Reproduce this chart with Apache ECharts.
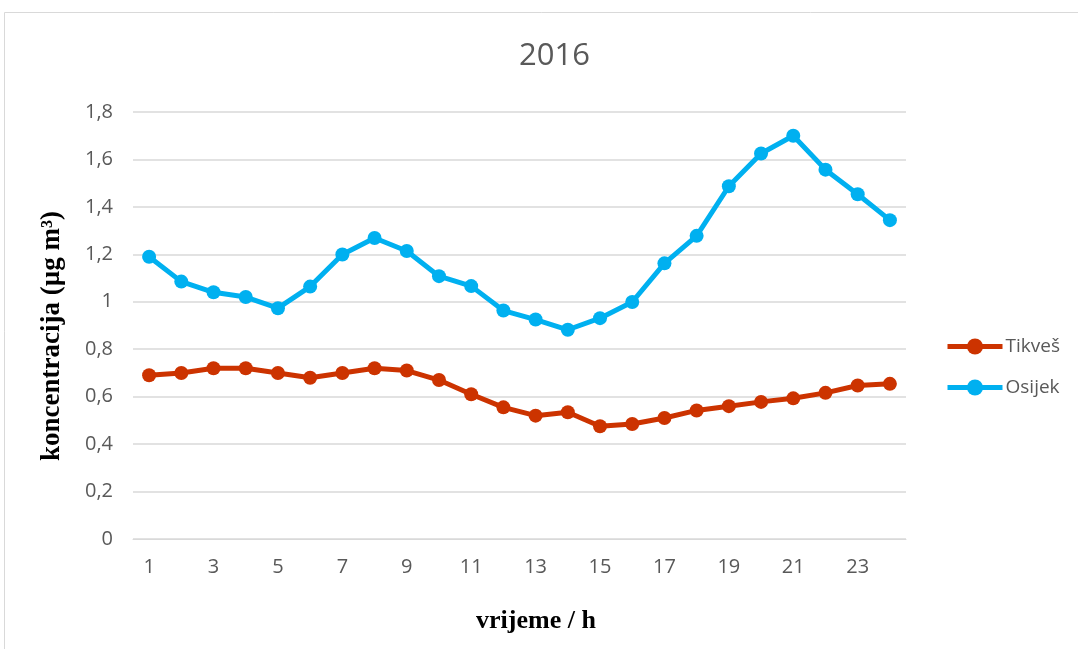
<!DOCTYPE html>
<html>
<head>
<meta charset="utf-8">
<script src="https://cdn.jsdelivr.net/npm/echarts@6/dist/echarts.min.js"></script>
<style>
  html, body { margin: 0; padding: 0; background: #fff; }
  #chart { width: 1078px; height: 649px; }
</style>
</head>
<body>
<div id="chart"></div>
<script>
// sati 1..24
const hours = ['1','2','3','4','5','6','7','8','9','10','11','12','13','14','15','16','17','18','19','20','21','22','23','24'];
const tikves = [0.69, 0.70, 0.72, 0.72, 0.70, 0.68, 0.70, 0.72, 0.71, 0.67, 0.61, 0.555, 0.52, 0.534, 0.475, 0.485, 0.51, 0.542, 0.56, 0.578, 0.593, 0.616, 0.647, 0.654];
const osijek = [1.19, 1.085, 1.04, 1.02, 0.973, 1.064, 1.199, 1.269, 1.214, 1.108, 1.066, 0.963, 0.925, 0.882, 0.931, 0.999, 1.162, 1.278, 1.487, 1.625, 1.70, 1.557, 1.453, 1.344];

const chart = echarts.init(document.getElementById('chart'));

const option = {
  animation: false,
  backgroundColor: '#fff',
  graphic: [{
    type: 'rect',
    shape: { x: 4.5, y: 12.5, width: 1100, height: 700 },
    style: { fill: 'none', stroke: '#d9d9d9', lineWidth: 1 }
  }],
  title: {
    text: '2016',
    left: 514,
    top: 36,
    textStyle: { fontFamily: 'Open Sans', fontSize: 31, fontWeight: 'normal', color: '#595959' }
  },
  legend: {
    orient: 'vertical',
    left: 940,
    top: 332,
    itemWidth: 55,
    itemHeight: 20,
    itemGap: 22,
    itemStyle: { borderWidth: 0 },
    lineStyle: { width: 5 },
    textStyle: { fontFamily: 'Open Sans', fontSize: 19, color: '#595959', padding: [0, 0, 0, -2] },
    data: ['Tikveš', 'Osijek']
  },
  grid: { left: 133, right: 172, top: 112, bottom: 110 },
  xAxis: {
    type: 'category',
    data: hours,
    name: 'vrijeme / h',
    nameLocation: 'middle',
    nameGap: 69,
    nameTextStyle: { fontFamily: 'Liberation Serif', fontWeight: 'bold', fontSize: 26, color: '#000', padding: [0, 0, 0, 33] },
    axisLine: { lineStyle: { color: '#d9d9d9' } },
    axisTick: { show: false },
    axisLabel: { interval: 1, margin: 18, fontFamily: 'Open Sans', fontSize: 20, color: '#595959' }
  },
  yAxis: {
    type: 'value',
    min: 0,
    max: 1.8,
    interval: 0.2,
    name: 'koncentracija (µg m³)',
    nameLocation: 'middle',
    nameGap: 67,
    nameTextStyle: { fontFamily: 'Liberation Serif', fontWeight: 'bold', fontSize: 27, color: '#000', padding: [0, 21, 0, 0] },
    axisLabel: {
      margin: 20,
      fontFamily: 'Open Sans',
      fontSize: 20,
      color: '#595959',
      formatter: v => String(Math.round(v * 10) / 10).replace('.', ',')
    },
    splitLine: { lineStyle: { color: '#d9d9d9', width: 1.5 } }
  },
  series: [
    {
      name: 'Tikveš',
      type: 'line',
      data: tikves,
      symbol: 'circle',
      symbolSize: 14,
      lineStyle: { width: 5, color: '#CC3300' },
      itemStyle: { color: '#CC3300' }
    },
    {
      name: 'Osijek',
      type: 'line',
      data: osijek,
      symbol: 'circle',
      symbolSize: 14,
      lineStyle: { width: 5, color: '#00B0F0' },
      itemStyle: { color: '#00B0F0' }
    }
  ]
};

chart.setOption(option);
window.addEventListener('resize', () => chart.resize());
</script>
</body>
</html>
